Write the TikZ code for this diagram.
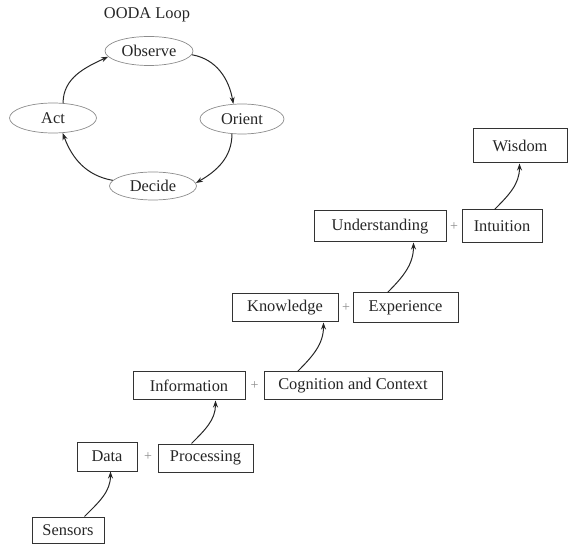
\documentclass[tikz,border=0pt]{standalone}
\usepackage{fontspec}
\setmainfont{Liberation Serif}
\usetikzlibrary{arrows.meta,shapes.geometric}
\begin{document}
\begin{tikzpicture}[x=1pt,y=-1pt,
  every node/.style={font=\fontsize{16.4}{19}\selectfont, text=black!85},
  stage/.style={draw=black!80, line width=1pt, inner sep=0pt, rectangle},
  phase/.style={draw=black!45, line width=0.7pt, ellipse, inner sep=0pt},
  plus/.style={text=black!45, font=\fontsize{14}{16}\selectfont, inner sep=0pt},
  flow/.style={draw=black!85, line width=1pt, -{Stealth[length=7pt,width=5pt]}},
]
\useasboundingbox (0,0) rectangle (568,545);

% OODA loop
\node (title) at (147,15) {OODA Loop};
\node[phase, minimum width=88pt, minimum height=29pt] (observe) at (149,51) {Observe};
\node[phase, minimum width=84pt, minimum height=30pt] (orient) at (242,119) {Orient};
\node[phase, minimum width=87pt, minimum height=28pt] (decide) at (153,186) {Decide};
\node[phase, minimum width=87pt, minimum height=30pt] (act) at (53,118) {Act};

\draw[flow] (act.56) to[out=90,in=205] (observe.188);
\draw[flow] (observe.-5) to[out=-10,in=100] (orient.120);
\draw[flow] (orient.236) to[out=-90,in=30] (decide.4);
\draw[flow] (decide.172) to[out=170,in=-70] (act.303);

% hierarchy of stages
\node[stage, minimum width=72pt, minimum height=26pt] (sensors) at (68,530) {Sensors};
\node[stage, minimum width=60pt, minimum height=29pt] (data) at (107,456.5) {Data};
\node[stage, minimum width=95pt, minimum height=28pt] (processing) at (205.5,458) {Processing};
\node[stage, minimum width=112pt, minimum height=28pt] (information) at (189,386) {Information};
\node[stage, minimum width=178pt, minimum height=28pt] (cognition) at (353,386) {Cognition and Context};
\node[stage, minimum width=106pt, minimum height=28pt] (knowledge) at (285,308) {Knowledge};
\node[stage, minimum width=105pt, minimum height=30pt] (experience) at (405.5,308) {Experience};
\node[stage, minimum width=132pt, minimum height=31pt] (understanding) at (380,226.5) {Understanding};
\node[stage, minimum width=80pt, minimum height=33pt] (intuition) at (502,226.5) {Intuition};
\node[stage, minimum width=94pt, minimum height=34pt] (wisdom) at (520,146) {Wisdom};

\node[plus] (p1) at (148,457) {+};
\node[plus] (p2) at (254.5,386) {+};
\node[plus] (p3) at (346,308) {+};
\node[plus] (p4) at (454,226.5) {+};

\draw[flow] ([xshift=53pt]sensors.north west) to[out=45,in=-90] ([xshift=-27pt]data.south east);
\draw[flow] ([xshift=34pt]processing.north west) to[out=45,in=-90] ([xshift=-30pt]information.south east);
\draw[flow] ([xshift=34pt]cognition.north west) to[out=45,in=-90] ([xshift=-15pt]knowledge.south east);
\draw[flow] ([xshift=35pt]experience.north west) to[out=45,in=-90] ([xshift=-33pt]understanding.south east);
\draw[flow] ([xshift=33pt]intuition.north west) to[out=45,in=-90] ([xshift=-48pt]wisdom.south east);
\end{tikzpicture}
\end{document}
